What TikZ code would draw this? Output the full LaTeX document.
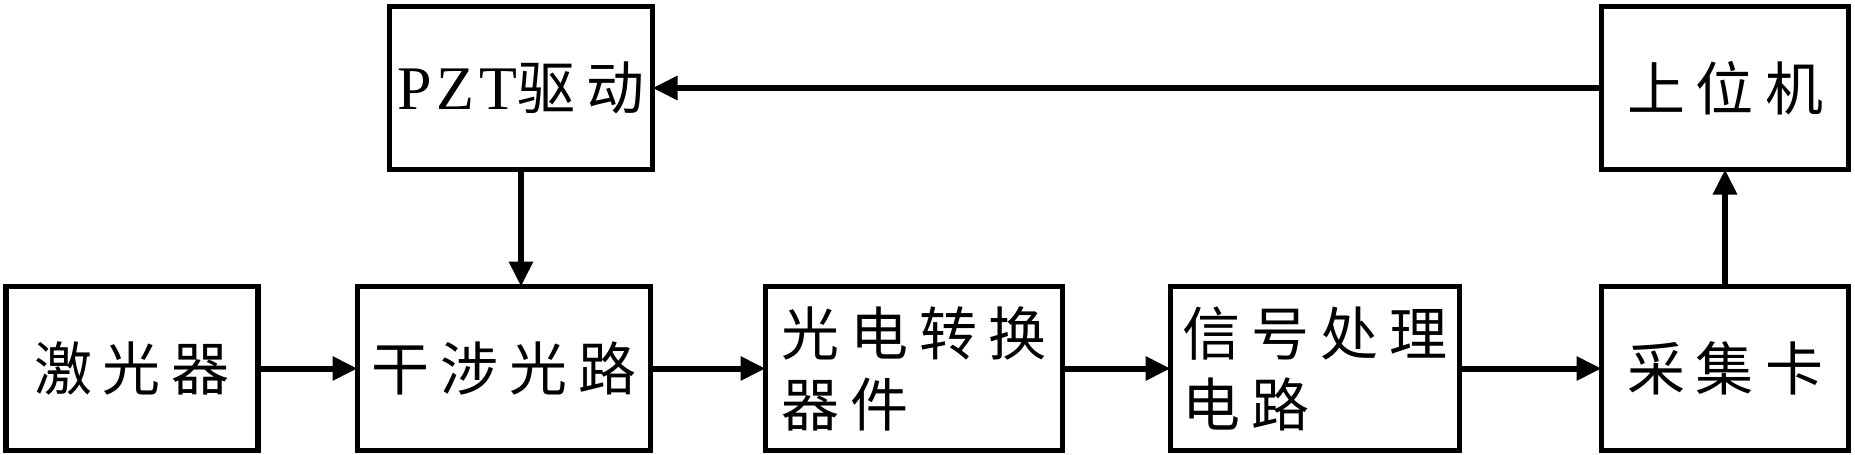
\documentclass[tikz,border=0pt]{standalone}
\usepackage{fontspec}
\setmainfont{Liberation Serif}
\newfontfamily\cjk{Noto Sans CJK SC}
\usetikzlibrary{arrows.meta}
\newcommand\gp{\hspace{11pt}}
\begin{document}
\begin{tikzpicture}[x=1pt,y=-1pt,
  box/.style={draw,line width=5.5pt,inner sep=0pt,outer sep=0pt,
    font=\fontsize{58}{71}\selectfont\cjk,align=left},
  arr/.style={line width=6pt,-{Triangle[length=25pt,width=23pt]}}]
\path[use as bounding box] (0,0) rectangle (1855,455);
\node[box,minimum width=252pt,minimum height=164pt] (laser) at (132,368.5) {激\gp 光\gp 器};
\node[box,minimum width=293pt,minimum height=164pt] (interf) at (504,368.5) {干\gp 涉\gp 光\gp 路};
\node[box,minimum width=263pt,minimum height=163pt] (pzt) at (521,88) {{\rmfamily\fontsize{62}{71}\selectfont P\hspace{5pt}Z\hspace{5pt}T}驱\gp 动};
\node[box,minimum width=297pt,minimum height=164pt] (pe) at (914,368.5) {光\gp 电\gp 转\gp 换\\器\gp 件};
\node[box,minimum width=289pt,minimum height=164pt] (sig) at (1315,368.5) {信\gp 号\gp 处\gp 理\\电\gp 路};
\node[box,minimum width=247pt,minimum height=164pt] (daq) at (1725,368.5) {采\gp 集\gp 卡};
\node[box,minimum width=247pt,minimum height=163pt] (pc) at (1725,88) {上\gp 位\gp 机};
\draw[arr] (laser.east) -- (interf.west);
\draw[arr] (interf.east) -- (pe.west);
\draw[arr] (pe.east) -- (sig.west);
\draw[arr] (sig.east) -- (daq.west);
\draw[arr] (daq.north) -- (pc.south);
\draw[arr] (pc.west) -- (pzt.east);
\draw[arr] (pzt.south) -- (pzt.south |- interf.north);
\end{tikzpicture}
\end{document}
